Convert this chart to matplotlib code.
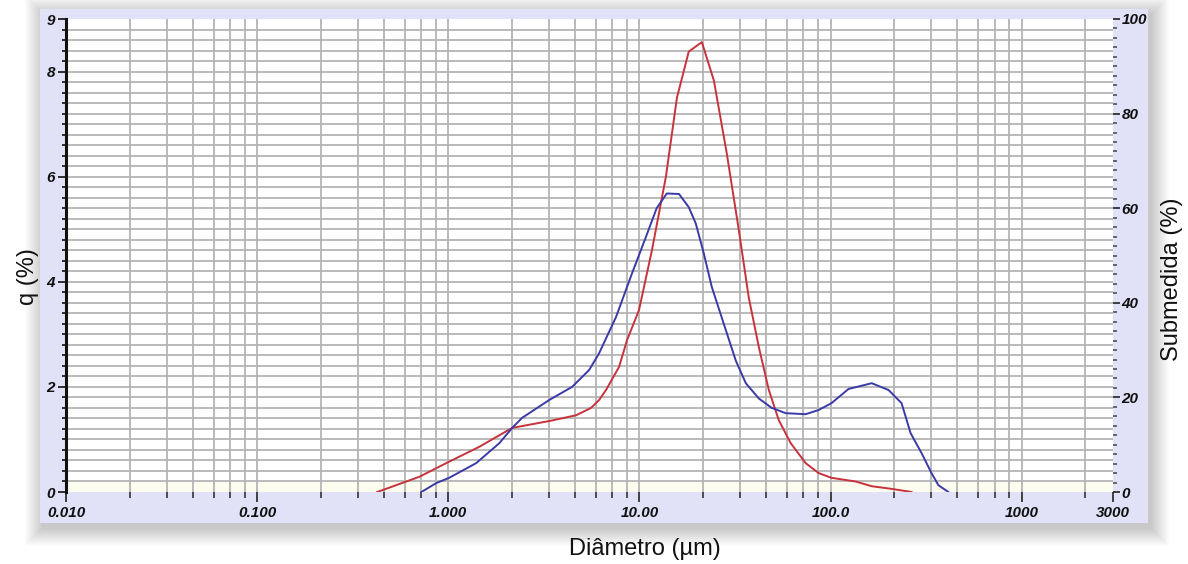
import numpy as np
import matplotlib
matplotlib.use("Agg")
import matplotlib.pyplot as plt
from matplotlib.patches import Rectangle
from matplotlib.ticker import FixedLocator, NullFormatter

plt.rcParams['font.family'] = ['Liberation Sans', 'DejaVu Sans']

# ---- data ----
red_d = [0.425, 0.706, 0.976, 1.452, 2.159, 3.37, 4.66, 5.58, 6.15, 6.68, 7.82, 8.61,
         9.94, 11.62, 13.75, 15.7, 18.1, 21.2, 24.5, 28.6, 33.1, 37.3, 42.1, 47.5,
         53.5, 61.8, 74.0, 86.5, 101, 135, 164, 208, 265]
red_q = [0.0, 0.29, 0.55, 0.86, 1.22, 1.35, 1.46, 1.60, 1.75, 1.94, 2.38, 2.89,
         3.46, 4.60, 6.00, 7.50, 8.38, 8.56, 7.83, 6.45, 4.98, 3.70, 2.76, 1.94,
         1.37, 0.93, 0.55, 0.36, 0.27, 0.20, 0.11, 0.06, 0.0]

blue_d = [0.723, 0.865, 1.01, 1.40, 1.85, 2.159, 2.43, 3.37, 4.44, 5.45, 6.15, 7.54,
          9.14, 10.8, 12.3, 13.9, 16.1, 18.1, 19.7, 21.7, 23.9, 28.3, 31.9, 36.0,
          42.1, 49.2, 58.2, 74.0, 86.5, 101, 124, 164, 201, 235, 262, 299, 337, 366, 413]
blue_q = [0.0, 0.17, 0.27, 0.55, 0.93, 1.22, 1.41, 1.75, 2.0, 2.32, 2.64, 3.33,
          4.16, 4.85, 5.40, 5.68, 5.67, 5.42, 5.11, 4.54, 3.90, 3.08, 2.50, 2.07,
          1.78, 1.60, 1.50, 1.48, 1.56, 1.69, 1.96, 2.07, 1.94, 1.69, 1.12, 0.74, 0.36, 0.13, 0.0]

x_major = [0.01, 0.1, 1, 10, 100, 1000, 3000]
x_labels = ["0.010", "0.100", "1.000", "10.00", "100.0", "1000", "3000"]
decade_fracs = [0.333, 0.527, 0.662, 0.773, 0.858, 0.935]   # instrument class lines per decade
left_labels = [0, 2, 4, 6, 8, 9]
right_labels = [0, 20, 40, 60, 80, 100]

W, H = 1188, 564
fig = plt.figure(figsize=(W / 100, H / 100), dpi=100, facecolor='white')

# frame with soft shadow
fx0, fy0, fx1, fy1 = 40, 9, 1148, 523
for i in range(18, 0, -1):
    fig.patches.append(Rectangle(((fx0 - i + 3) / W, 1 - (fy1 + i + 5) / H),
                                 (fx1 - fx0 + 2 * i) / W, (fy1 - fy0 + 2 * i) / H,
                                 transform=fig.transFigure, facecolor='#000000',
                                 alpha=0.011, edgecolor='none', zorder=-5))
fig.patches.append(Rectangle((fx0 / W, 1 - fy1 / H), (fx1 - fx0) / W, (fy1 - fy0) / H,
                             transform=fig.transFigure, facecolor='#e1e2f7',
                             edgecolor='none', zorder=-4))

ax = fig.add_axes([66 / W, 1 - 492 / H, (1113 - 66) / W, (492 - 19) / H])
ax.set_facecolor('white')
ax.set_xscale('log')
ax.set_xlim(0.01, 3000)
ax.set_ylim(0, 9)

# grid
minor_x = []
for k in range(-2, 4):
    for f in decade_fracs:
        v = 10 ** (k + f)
        if v < 3000:
            minor_x.append(v)
grid_col = '#b4b4b4'
for v in minor_x + x_major[1:-1]:
    ax.axvline(v, color=grid_col, lw=1.3, zorder=1)
for yv in np.arange(0.2, 9.0, 0.2):
    ax.axhline(yv, color=grid_col, lw=1.3, zorder=1)
ax.axhspan(0, 0.2, color='#fcfcef', zorder=0.5, lw=0)

ax.plot(red_d, red_q, color='#c8323c', lw=1.4, zorder=3)
ax.plot(blue_d, blue_q, color='#3a3aa8', lw=1.4, zorder=3)

tick_font = dict(fontsize=11, fontweight='bold', fontstyle='italic', color='#111111')

ax.xaxis.set_major_locator(FixedLocator(x_major))
ax.set_xticklabels(x_labels, **tick_font)
ax.xaxis.set_minor_locator(FixedLocator(minor_x))
ax.xaxis.set_minor_formatter(NullFormatter())
ax.tick_params(axis='x', which='major', direction='out', length=7, width=1.3,
               color='#333333', pad=3)
ax.tick_params(axis='x', which='minor', direction='out', length=4, width=1.2,
               color='#333333')

ax.yaxis.set_major_locator(FixedLocator(left_labels))
ax.set_yticklabels([str(v) for v in left_labels], **tick_font)
ax.yaxis.set_minor_locator(FixedLocator(list(np.arange(0.2, 9.0, 0.2))))
ax.tick_params(axis='y', which='major', direction='out', length=6, width=1.2,
               color='#111111', pad=2)
ax.tick_params(axis='y', which='minor', direction='out', length=3, width=1.2,
               color='#111111')

for s in ['top', 'right', 'bottom']:
    ax.spines[s].set_visible(False)
ax.spines['left'].set_linewidth(2.2)
ax.spines['left'].set_color('#111111')

ax2 = ax.twinx()
ax2.set_ylim(0, 100)
ax2.yaxis.set_major_locator(FixedLocator(right_labels))
ax2.set_yticklabels([str(v) for v in right_labels], **tick_font)
ax2.yaxis.set_minor_locator(FixedLocator(list(range(2, 100, 2))))
ax2.tick_params(axis='y', which='major', direction='out', length=5, width=1.2,
                color='#222222', pad=1)
ax2.tick_params(axis='y', which='minor', direction='out', length=3, width=1.1,
                color='#444444')
for s in ['top', 'right', 'bottom', 'left']:
    ax2.spines[s].set_visible(False)

label_font = dict(fontsize=17, color='#111111')
fig.text(28 / W, 1 - 277 / H, "q (%)", rotation=90, ha='center', va='center', **label_font)
fig.text(1172 / W, 1 - 279 / H, "Submedida (%)", rotation=90, ha='center', va='center', **label_font)
fig.text(645 / W, 1 - 549 / H, "Diâmetro (µm)", ha='center', va='center', **label_font)

fig.savefig("out.png", dpi=100, facecolor='white')
